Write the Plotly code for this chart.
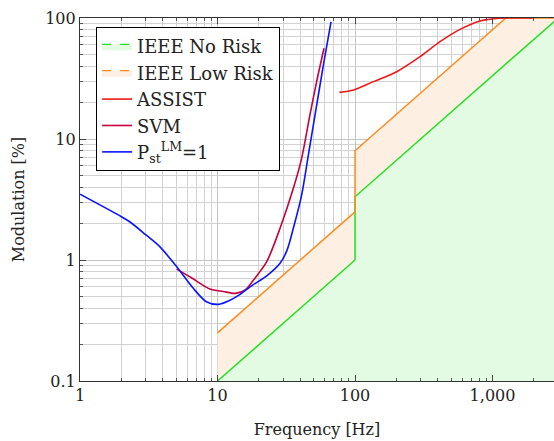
import plotly.graph_objects as go

# IEEE 1789 limits
no_risk_f = [10, 100, 100, 3000, 10000]
no_risk_mod = [0.1, 1, 3.333, 100, 100]
low_risk_f = [10, 100, 100, 1250, 10000]
low_risk_mod = [0.25, 2.5, 8, 100, 100]

assist_f = [77, 97.6, 136, 201, 297, 415, 580, 811, 1134, 1960]
assist_mod = [24.3, 25.4, 29.8, 36, 47.9, 63.7, 80.5, 94.5, 99.5, 100]

svm_f = [5.05, 6.5, 8.8, 11, 13.5, 16, 18.2, 22.8, 28.5, 35.6, 40.9, 47, 52.6, 59.5]
svm_mod = [0.84, 0.71, 0.576, 0.55, 0.53, 0.57, 0.68, 0.97, 1.83, 3.91, 6.92, 15.8, 29.8, 56.2]

pst_f = [1, 2.0, 2.3, 3.0, 3.8, 5.05, 6.67, 8.3, 10.2, 12, 14.6, 18, 22.8, 28.5, 32, 35.6, 40.9, 45.8, 51.2, 58.9, 66.9]
pst_mod = [3.5, 2.28, 2.07, 1.62, 1.29, 0.88, 0.583, 0.452, 0.43, 0.458, 0.52, 0.62, 0.74, 0.94, 1.2, 1.83, 3.44, 7.4, 15.8, 40.9, 93]

x_major = [1, 10, 100, 1000]
x_labels = ["1", "10", "100", "1,000"]
y_major = [0.1, 1, 10, 100]
y_labels = ["0.1", "1", "10", "100"]

FONT = "DejaVu Serif"
GREEN = "#22e022"
ORANGE = "#ff8a1c"
GREEN_FILL = "#e3fbe2"
ORANGE_FILL = "#fdefe1"
BOTTOM = 0.01
FS = 16
LFS = 18

fig = go.Figure()

# fills (no legend)
fig.add_trace(go.Scatter(x=low_risk_f + [low_risk_f[-1], low_risk_f[0]],
                         y=low_risk_mod + [BOTTOM, BOTTOM],
                         fill="toself", fillcolor=ORANGE_FILL, line=dict(width=0),
                         mode="lines", showlegend=False, hoverinfo="skip"))
fig.add_trace(go.Scatter(x=no_risk_f + [no_risk_f[-1], no_risk_f[0]],
                         y=no_risk_mod + [BOTTOM, BOTTOM],
                         fill="toself", fillcolor=GREEN_FILL, line=dict(width=0),
                         mode="lines", showlegend=False, hoverinfo="skip"))

# legend-only entries for the areas
fig.add_trace(go.Scatter(x=[None], y=[None], mode="lines", fill="toself",
                         fillcolor=GREEN_FILL, line=dict(color=GREEN, dash="dash", width=1.2),
                         name="IEEE No Risk"))
fig.add_trace(go.Scatter(x=[None], y=[None], mode="lines", fill="toself",
                         fillcolor=ORANGE_FILL, line=dict(color=ORANGE, dash="dash", width=1.2),
                         name="IEEE Low Risk"))

# limit lines
fig.add_trace(go.Scatter(x=no_risk_f, y=no_risk_mod, mode="lines",
                         line=dict(color=GREEN, width=1.5), showlegend=False))
fig.add_trace(go.Scatter(x=low_risk_f, y=low_risk_mod, mode="lines",
                         line=dict(color=ORANGE, width=1.5), showlegend=False))

fig.add_trace(go.Scatter(x=assist_f, y=assist_mod, mode="lines", name="ASSIST",
                         line=dict(color="#f01818", width=1.6, shape="spline", smoothing=0.8)))
fig.add_trace(go.Scatter(x=svm_f, y=svm_mod, mode="lines", name="SVM",
                         line=dict(color="#c8003c", width=1.6, shape="spline", smoothing=0.8)))
fig.add_trace(go.Scatter(x=pst_f, y=pst_mod, mode="lines", name="P<sub>st</sub><sup>LM</sup>=1",
                         line=dict(color="#0a14ff", width=1.6, shape="spline", smoothing=0.8)))

minor_vals = [m * 10 ** k for k in range(-2, 5) for m in range(2, 10)]

common = dict(ticks="inside", ticklen=6, tickcolor="#444",
              showgrid=True, gridcolor="#c4c4c4", gridwidth=1,
              minor=dict(tickvals=minor_vals, ticks="inside", ticklen=3, tickcolor="#555",
                         showgrid=True, gridcolor="#d2d2d2", gridwidth=1),
              showline=True, linecolor="#333", linewidth=1.2,
              zeroline=False, automargin=False,
              tickfont=dict(family=FONT, size=FS, color="#222"))

fig.update_xaxes(type="log", range=[0, 3.447],
                 tickvals=x_major, ticktext=x_labels, mirror="allticks",
                 title=dict(text="Frequency [Hz]", standoff=19,
                            font=dict(family=FONT, size=FS, color="#222")),
                 **common)
fig.update_yaxes(type="log", range=[-1, 2],
                 tickvals=y_major, ticktext=y_labels, mirror=False,
                 title=dict(text="Modulation [%]", standoff=16,
                            font=dict(family=FONT, size=FS, color="#222")),
                 **common)

fig.update_layout(
    width=554, height=441,
    margin=dict(l=80, r=0, t=18, b=60),
    paper_bgcolor="white", plot_bgcolor="white",
    font=dict(family=FONT, size=FS, color="#222"),
    legend=dict(x=0.034, y=0.975, xanchor="left", yanchor="top",
                bgcolor="white", bordercolor="black", borderwidth=1,
                font=dict(family=FONT, size=LFS, color="#222"),
                tracegroupgap=0, itemwidth=30),
)

fig.write_html("out.html", config={"displayModeBar": False},
               post_script="document.body.style.margin='0';document.body.style.overflow='hidden';")
